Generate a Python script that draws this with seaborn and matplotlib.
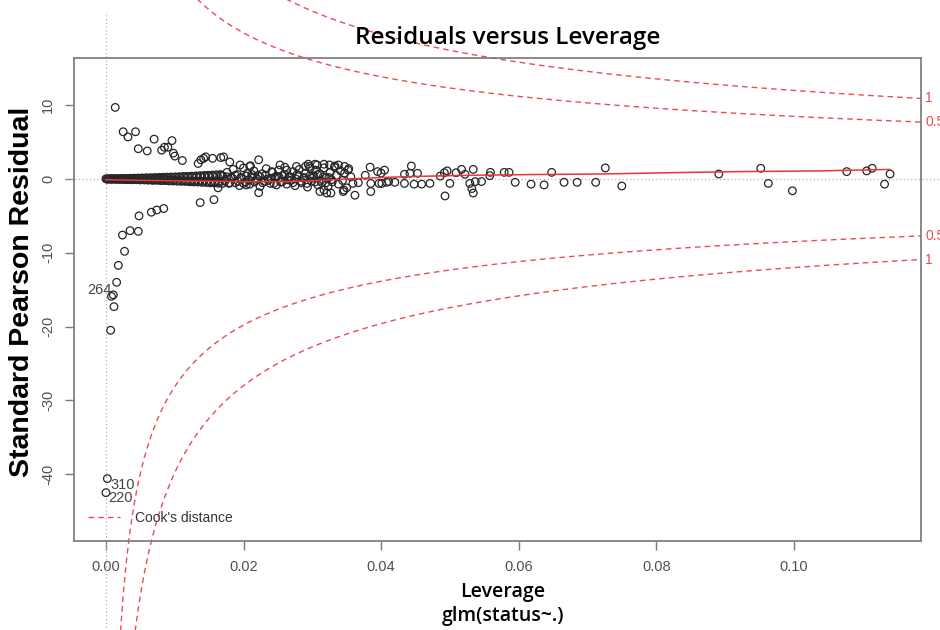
import numpy as np
import pandas as pd
import matplotlib
matplotlib.use("Agg")
import matplotlib.pyplot as plt
import seaborn as sns
from matplotlib.lines import Line2D
from matplotlib import font_manager

# ---------------- data ----------------
# thin band of points hugging zero at small leverage
band_x = [0.0000, 0.0003, 0.0006, 0.0009, 0.0012, 0.0015, 0.0018, 0.0021, 0.0024, 0.0027,
          0.0030, 0.0033, 0.0036, 0.0039, 0.0042, 0.0045, 0.0048, 0.0051, 0.0054, 0.0057,
          0.0060, 0.0063, 0.0066, 0.0069, 0.0072, 0.0075, 0.0078, 0.0081, 0.0084, 0.0087,
          0.0090, 0.0093, 0.0096, 0.0099, 0.0102, 0.0105, 0.0108, 0.0111, 0.0114, 0.0117,
          0.0120, 0.0123, 0.0126, 0.0129, 0.0132, 0.0135, 0.0138, 0.0141, 0.0144, 0.0147,
          0.0150, 0.0153, 0.0156, 0.0159, 0.0162, 0.0165, 0.0168]
band_y = [0.02, -0.03, 0.04, -0.02, 0.03, -0.05, 0.05, -0.04, 0.06, -0.06,
          0.05, -0.07, 0.08, -0.05, 0.07, -0.09, 0.10, -0.08, 0.09, -0.11,
          0.12, -0.10, 0.11, -0.13, 0.14, -0.12, 0.15, -0.16, 0.17, -0.14,
          0.18, -0.19, 0.20, -0.17, 0.22, -0.21, 0.24, -0.23, 0.26, -0.25,
          0.28, -0.27, 0.30, -0.29, 0.33, -0.31, 0.35, -0.34, 0.38, -0.36,
          0.40, -0.39, 0.43, -0.42, 0.46, -0.45, 0.50]

# second, interleaved row of the same band
band2_x = [0.00015, 0.00045, 0.00075, 0.00105, 0.00135, 0.00165, 0.00195, 0.00225, 0.00255, 0.00285,
           0.00315, 0.00345, 0.00375, 0.00405, 0.00435, 0.00465, 0.00495, 0.00525, 0.00555, 0.00585,
           0.00615, 0.00645, 0.00675, 0.00705, 0.00735, 0.00765, 0.00795, 0.00825, 0.00855, 0.00885,
           0.00915, 0.00945, 0.00975, 0.01005, 0.01035, 0.01065, 0.01095, 0.01125, 0.01155, 0.01185,
           0.01215, 0.01245, 0.01275, 0.01305, 0.01335, 0.01365, 0.01395, 0.01425, 0.01455, 0.01485,
           0.01515, 0.01545, 0.01575, 0.01605, 0.01635, 0.01665, 0.01695]
band2_y = [-0.01, 0.03, -0.04, 0.05, -0.03, 0.06, -0.06, 0.07, -0.07, 0.08,
           -0.08, 0.09, -0.10, 0.11, -0.09, 0.12, -0.13, 0.14, -0.12, 0.16,
           -0.15, 0.17, -0.18, 0.19, -0.17, 0.21, -0.22, 0.23, -0.21, 0.25,
           -0.26, 0.27, -0.28, 0.29, -0.30, 0.31, -0.32, 0.34, -0.33, 0.36,
           -0.37, 0.39, -0.40, 0.42, -0.41, 0.45, -0.46, 0.48, -0.47, 0.50,
           -0.52, 0.54, -0.53, 0.57, -0.58, 0.60, -0.60]

# dense cloud between leverage 0.017 and 0.036
cloud_x = [0.0170, 0.0173, 0.0176, 0.0179, 0.0182, 0.0185, 0.0188, 0.0191, 0.0194, 0.0197,
           0.0200, 0.0203, 0.0206, 0.0209, 0.0212, 0.0215, 0.0218, 0.0221, 0.0224, 0.0227,
           0.0230, 0.0233, 0.0236, 0.0239, 0.0242, 0.0245, 0.0248, 0.0251, 0.0254, 0.0257,
           0.0260, 0.0263, 0.0266, 0.0269, 0.0272, 0.0275, 0.0278, 0.0281, 0.0284, 0.0287,
           0.0290, 0.0293, 0.0296, 0.0299, 0.0302, 0.0305, 0.0308, 0.0311, 0.0314, 0.0317,
           0.0320, 0.0323, 0.0326, 0.0329, 0.0332, 0.0335, 0.0338, 0.0341, 0.0344, 0.0347,
           0.0350, 0.0353, 0.0356, 0.0359]
cloud_y = [0.4, -0.3, 0.9, -0.6, 0.2, 1.3, -0.5, 0.6, -0.9, 0.1,
           1.5, -0.4, 0.8, -0.7, 0.3, 1.1, -0.2, 0.5, -1.0, 0.7,
           -0.3, 1.4, 0.0, -0.6, 0.9, 0.2, -0.8, 1.2, -0.4, 0.5,
           1.6, -0.7, 0.3, -0.2, 1.0, -0.9, 0.6, 1.3, -0.5, 0.1,
           0.8, -1.1, 1.7, -0.3, 0.4, 1.2, -0.8, 0.7, -0.5, 1.5,
           0.2, -1.0, 0.9, -0.4, 1.6, 0.5, -0.7, 1.1, -0.2, 0.8,
           -1.2, 1.4, 0.3, -0.6]

core_x = [0.0172, 0.0176, 0.0180, 0.0184, 0.0188, 0.0192, 0.0196, 0.0200, 0.0204, 0.0208,
          0.0212, 0.0216, 0.0220, 0.0224, 0.0228, 0.0232, 0.0236, 0.0240, 0.0244, 0.0248,
          0.0252, 0.0256, 0.0260, 0.0264, 0.0268, 0.0272, 0.0276, 0.0280, 0.0284, 0.0288,
          0.0292, 0.0296, 0.0300, 0.0304, 0.0308, 0.0312, 0.0316, 0.0320, 0.0324, 0.0328]
core_y = [-0.2, 0.3, -0.5, 0.1, 0.5, -0.3, 0.2, -0.6, 0.4, -0.1,
          0.6, -0.4, 0.0, 0.3, -0.5, 0.5, -0.2, 0.1, -0.6, 0.4,
          0.2, -0.4, 0.6, -0.1, 0.3, -0.5, 0.0, 0.5, -0.3, 0.2,
          -0.6, 0.4, 0.1, -0.4, 0.6, -0.2, 0.3, -0.5, 0.2, -0.1]

# fan of points at small leverage (incl. labelled outliers)
fan_x = [0.00135, 0.0025, 0.0032, 0.0043, 0.0047, 0.0060, 0.0070, 0.0081, 0.0085, 0.0090,
         0.0096, 0.0098, 0.0100, 0.0111, 0.0134, 0.0138, 0.0142, 0.0145, 0.0155, 0.0167,
         0.0137, 0.0157, 0.0163, 0.0048, 0.0066, 0.0074, 0.0084, 0.0024, 0.0035, 0.0047,
         0.0027, 0.0018, 0.00155, 0.00107, 0.0008, 0.00116, 0.00068, 0.0002, 0.0000]
fan_y = [9.7, 6.4, 5.7, 6.4, 4.1, 3.8, 5.4, 3.9, 4.3, 4.3,
         5.2, 3.5, 3.1, 2.5, 2.1, 2.6, 2.8, 3.0, 2.8, 2.9,
         -3.2, -2.8, -1.2, -5.0, -4.5, -4.2, -4.0, -7.6, -7.0, -7.1,
         -9.8, -11.7, -14.0, -15.7, -15.9, -17.3, -20.5, -40.6, -42.5]

# scattered points around the cloud edges
mid_x = [0.0222, 0.0253, 0.0222, 0.0204, 0.0311, 0.0321, 0.0346, 0.0362, 0.0294, 0.0304,
         0.0317, 0.0338, 0.0277, 0.0263, 0.0241, 0.0195, 0.0209, 0.0171, 0.0180, 0.0210,
         0.0290, 0.0297, 0.0307, 0.0325, 0.0333, 0.0347, 0.0352, 0.0317, 0.0327, 0.0345]
mid_y = [2.6, 1.9, -1.85, -0.8, -1.7, -1.9, -1.5, -2.2, 2.0, 2.0,
         2.0, 1.9, 1.7, 1.2, 1.0, 1.9, 1.7, 3.0, 2.3, 1.8,
         1.7, 1.45, 1.9, 1.9, 1.76, 1.7, 1.2, -1.5, -1.9, -1.7]

# sparse points at larger leverage
far_x = [0.0384, 0.0377, 0.0367, 0.0385, 0.0385, 0.0395, 0.0400, 0.0405, 0.0397, 0.0401,
         0.0408, 0.0411, 0.0420, 0.0434, 0.0434, 0.0444, 0.0442, 0.0453, 0.0448, 0.0459,
         0.0471, 0.0486, 0.0492, 0.0496, 0.0500, 0.0493, 0.0509, 0.0517, 0.0522, 0.0534,
         0.0529, 0.0537, 0.0546, 0.0532, 0.0534, 0.0559, 0.0558, 0.0579, 0.0586, 0.0595,
         0.0618, 0.0637, 0.0648, 0.0666, 0.0685, 0.0712, 0.0726, 0.0750, 0.0891, 0.0952,
         0.0963, 0.0998, 0.1077, 0.1106, 0.1114, 0.1132, 0.1140]
far_y = [1.6, 0.5, -0.5, -0.6, -1.7, 1.0, 0.8, 1.2, -0.6, -0.6,
         -0.45, -0.35, -0.45, 0.64, -0.6, 1.76, 0.77, 0.77, -0.7, -0.7,
         -0.6, 0.4, 0.85, 1.1, -0.6, -2.3, 0.85, 1.3, 0.64, 1.3,
         -0.6, -0.35, -0.35, -1.3, -1.9, 0.9, 0.45, 0.9, 0.9, -0.45,
         -0.7, -0.8, 0.9, -0.45, -0.45, -0.45, 1.5, -0.95, 0.68, 1.45,
         -0.6, -1.6, 1.0, 1.1, 1.45, -0.7, 0.68]

# lowess smooth (red line)
smooth_x = [0.0, 0.005, 0.010, 0.015, 0.020, 0.025, 0.030, 0.035, 0.040, 0.045,
            0.053, 0.062, 0.072, 0.082, 0.092, 0.104, 0.114]
smooth_y = [-0.10, -0.18, -0.25, -0.30, -0.35, -0.37, -0.25, 0.0, 0.2, 0.35,
            0.50, 0.60, 0.68, 0.85, 1.0, 1.1, 1.3]

# labelled observations
id_labels = ["264", "310", "220"]
id_x = [0.00107, 0.0002, 0.0000]
id_y = [-15.7, -40.6, -42.5]

# Cook's distance contour settings
cook_levels = [0.5, 1.0]
cook_labels = ["0.5", "1"]
n_params = 16

x_ticks = [0.00, 0.02, 0.04, 0.06, 0.08, 0.10]
x_ticklabels = ["0.00", "0.02", "0.04", "0.06", "0.08", "0.10"]
y_ticks = [-40, -30, -20, -10, 0, 10]
y_ticklabels = ["-40", "-30", "-20", "-10", "0", "10"]

# ---------------- fonts ----------------
def pick_heading_font():
    prefs = ["Noto Sans", "Open Sans", "Lato", "Roboto", "Inter", "DejaVu Sans"]
    entries = font_manager.fontManager.ttflist
    for name in prefs:
        ws = [f.weight for f in entries if f.name == name and f.style == "normal"]
        ws = [w if isinstance(w, int) else 400 for w in ws]
        good = sorted(w for w in ws if 550 <= w <= 700)
        if good:
            return name, good[0]
    return "DejaVu Sans", "bold"

head_family, head_weight = pick_heading_font()

# ---------------- figure ----------------
sns.set_theme(style="white")
plt.rcParams['font.family'] = ['Liberation Sans', 'DejaVu Sans']

fig = plt.figure(figsize=(9.4, 6.3), dpi=100)
ax = fig.add_axes([0.0787, 0.1413, 0.9011, 0.7667])

df = pd.DataFrame({
    "leverage": band_x + band2_x + cloud_x + core_x + fan_x + mid_x + far_x,
    "residual": band_y + band2_y + cloud_y + core_y + fan_y + mid_y + far_y,
})

x_lo, x_hi = -0.00465, 0.1185
y_lo, y_hi = -49.05, 16.4

# reference dotted lines
ax.axhline(0, xmin=-0.008, xmax=1.03, ls=(0, (1, 2)), color="#b0b0b0", lw=0.9,
           clip_on=False, zorder=1)
ax.axvline(0, ymin=-0.19, ymax=1.095, ls=(0, (1, 2)), color="#b0b0b0", lw=0.9,
           clip_on=False, zorder=1)

sns.scatterplot(data=df, x="leverage", y="residual", ax=ax, marker="o", s=30,
                color="none", edgecolor="#262626", linewidth=0.9, legend=False, zorder=3)

sns.lineplot(x=smooth_x, y=smooth_y, ax=ax, color="#e8353a", lw=1.1, sort=False,
             estimator=None, zorder=4)

# Cook's distance contours
cook_color = "#ee4a55"
hh = np.linspace(1e-4, x_hi, 800)
for lvl, lab in zip(cook_levels, cook_labels):
    r = np.sqrt(lvl * n_params * (1 - hh) / hh)
    for sgn in (1, -1):
        ax.plot(hh, sgn * r, ls=(0, (4, 3)), color=cook_color, lw=1.0,
                clip_on=False, zorder=2)
        yv = sgn * np.sqrt(lvl * n_params * (1 - x_hi) / x_hi)
        ax.text(1.005, yv, lab, transform=ax.get_yaxis_transform(), color=cook_color,
                fontsize=10, ha="left", va="center", clip_on=False)

# id labels
ax.text(id_x[0] - 0.0002, id_y[0] + 0.6, id_labels[0], ha="right", va="center",
        fontsize=10.5, color="#444444")
ax.text(id_x[1] + 0.0004, id_y[1] - 0.9, id_labels[1], ha="left", va="center",
        fontsize=10.5, color="#444444")
ax.text(id_x[2] + 0.0004, id_y[2] - 0.7, id_labels[2], ha="left", va="center",
        fontsize=10.5, color="#444444")

ax.set_xlim(x_lo, x_hi)
ax.set_ylim(y_lo, y_hi)
ax.set_xticks(x_ticks)
ax.set_xticklabels(x_ticklabels)
ax.set_yticks(y_ticks)
ax.set_yticklabels(y_ticklabels, rotation=90, va="center")
ax.tick_params(axis="both", direction="out", length=6.5, width=1.0, color="#7a7a7a",
               labelsize=10.5, labelcolor="#505050")
ax.tick_params(axis="x", pad=7, bottom=True)
ax.tick_params(axis="y", pad=7, left=True)

for sp in ax.spines.values():
    sp.set_color("#808080")
    sp.set_linewidth(1.3)

ax.set_xlabel("")
ax.set_ylabel("Standard Pearson Residual", fontsize=20.5, fontweight="bold", color="black")
ax.yaxis.set_label_coords(-0.0455, 0.5155)

# legend
handle = Line2D([], [], ls=(0, (4, 3)), color=cook_color, lw=1.0)
leg = ax.legend([handle], ["Cook's distance"], loc="lower left",
                bbox_to_anchor=(0.0165, 0.033), frameon=False, fontsize=10,
                handlelength=2.3, handletextpad=1.1, borderpad=0, borderaxespad=0)
for t in leg.get_texts():
    t.set_color("#333333")

# title and x label (different font)
title_font = [head_family, "DejaVu Sans"]
fig.text(508 / 940, 1 - 38 / 630, "Residuals versus Leverage", ha="center", va="center",
         fontsize=17.5, fontweight=head_weight, family=title_font, color="black")
fig.text(503 / 940, 1 - 592 / 630, "Leverage", ha="center", va="center",
         fontsize=14, fontweight=head_weight, family=title_font, color="black")
fig.text(503 / 940, 1 - 616 / 630, "glm(status~.)", ha="center", va="center",
         fontsize=14, fontweight=head_weight, family=title_font, color="black")

fig.savefig("out.png", dpi=100)
